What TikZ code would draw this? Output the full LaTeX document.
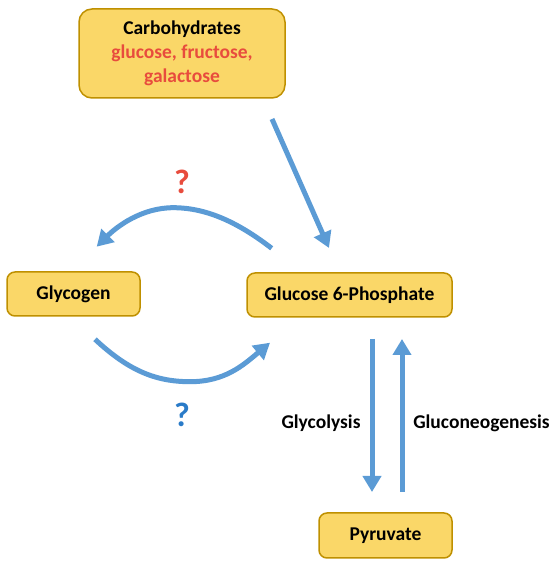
\documentclass[tikz,border=0pt]{standalone}
\usepackage{fontspec}
\setmainfont{Carlito}
\usetikzlibrary{arrows.meta}
\definecolor{boxfill}{HTML}{FAD768}
\definecolor{boxline}{HTML}{BF9000}
\definecolor{arrowblue}{HTML}{5B9BD5}
\definecolor{txtred}{HTML}{E84C3D}
\definecolor{qblue}{HTML}{2A7BC8}
\begin{document}
\begin{tikzpicture}[x=1pt,y=1pt,
  box/.style={draw=boxline, fill=boxfill, line width=1.5pt, rounded corners=8pt, inner sep=0pt, font=\bfseries\fontsize{19.5}{24}\selectfont},
  flow/.style={draw=arrowblue, line width=5pt, -{Triangle[width=18pt,length=16pt]}},
  lbl/.style={font=\bfseries\fontsize{19.5}{23}\selectfont},
  qmark/.style={font=\bfseries\fontsize{34}{40}\selectfont}
]
\useasboundingbox (0,0) rectangle (558,566);
\node[box, rounded corners=13pt, minimum width=206pt, minimum height=89pt, align=center] (carb) at (182,512.5)
  {Carbohydrates\\\textcolor{txtred}{glucose, fructose,}\\\textcolor{txtred}{galactose}};
\node[box, minimum width=133pt, minimum height=44pt] (glycogen) at (73.5,272) {Glycogen};
\node[box, minimum width=205pt, minimum height=44pt] (g6p) at (349.5,271) {Glucose 6-Phosphate};
\node[box, minimum width=133pt, minimum height=45pt] (pyr) at (385.5,30.5) {Pyruvate};

\node[lbl] (glycolysis) at (321,143) {Glycolysis};
\node[lbl] (gluconeo) at (481.5,143) {Gluconeogenesis};
\node[qmark, text=txtred] (q1) at (182,384) {?};
\node[qmark, text=qblue] (q2) at (182,151) {?};

\coordinate (c1s) at (272,447);
\coordinate (c1e) at (329,318);
\coordinate (t1s) at (271.7,317.7);
\coordinate (t1p) at (173.3,358.3);
\coordinate (t1e) at (96.7,319.3);
\coordinate (b1s) at (95,226.7);
\coordinate (b1p) at (190,184.3);
\coordinate (b1e) at (270,223.3);
\coordinate (d1s) at (372,227);
\coordinate (d1e) at (372,74);
\coordinate (u1s) at (402,74);
\coordinate (u1e) at (402,227);

\draw[flow] (c1s) -- (c1e);
\draw[flow] (t1s) .. controls (240,342) and (208.3,358.3) .. (t1p)
                  .. controls (141.3,358.3) and (116.5,339.1) .. (t1e);
\draw[flow] (b1s) .. controls (127.9,196) and (155,184.3) .. (b1p)
                  .. controls (225,184.3) and (243.2,200.8) .. (b1e);
\draw[flow] (d1s) -- (d1e);
\draw[flow] (u1s) -- (u1e);
\end{tikzpicture}
\end{document}
